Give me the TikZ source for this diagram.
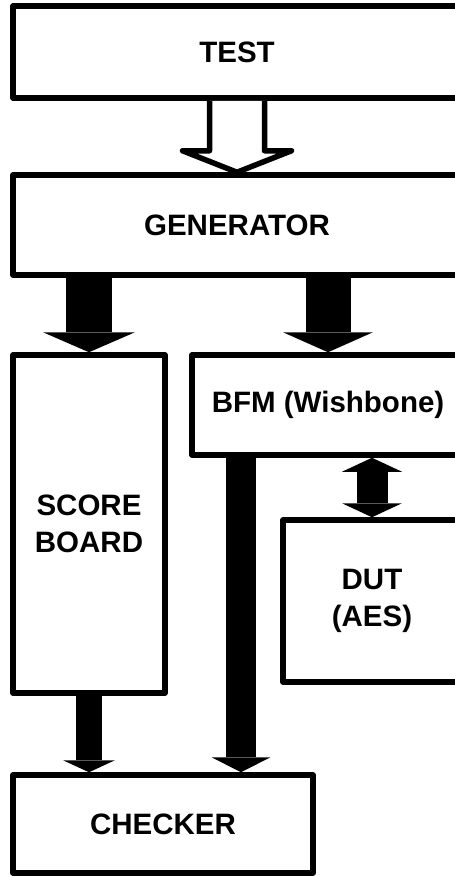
\documentclass[tikz,border=0pt]{standalone}
\usepackage{fontspec}
\setmainfont{Liberation Sans}
\usetikzlibrary{arrows.meta,calc}

\tikzset{
  block/.style={draw, line width=5.5pt, line join=round, inner sep=0pt, align=center,
    font=\bfseries\fontsize{29.5}{37}\selectfont},
  fat/.style n args={3}{line width=#1pt,
    -{Triangle[width=#2pt,length=#3pt,line width=0pt]}},
  fatboth/.style n args={3}{line width=#1pt,
    {Triangle[width=#2pt,length=#3pt,line width=0pt]}-{Triangle[width=#2pt,length=#3pt,line width=0pt]}},
  hollow/.style={draw, fill=white, line width=5.5pt, line join=round}
}

\begin{document}
\begin{tikzpicture}[x=1pt,y=-1pt]
  \useasboundingbox (0,0) rectangle (455,876);
  \clip (0,0) rectangle (455,876);

  % boxes
  \node[block, minimum width=448, minimum height=92] (test) at (237,52) {TEST};
  \node[block, minimum width=448, minimum height=100] (gen) at (237,225) {GENERATOR};
  \node[block, minimum width=152, minimum height=338] (score) at (89,524) {SCORE\\BOARD};
  \node[block, minimum width=272, minimum height=100] (bfm) at (328,405) {BFM (Wishbone)};
  \node[block, minimum width=178, minimum height=162] (dut) at (372,601) {DUT\\(AES)};
  \node[block, minimum width=300, minimum height=98] (chk) at (163,824) {CHECKER};
  \coordinate (tap) at (241,0);

  % test -> generator
  \draw[hollow] (test.south) ++(-27.5,0) |- ($(test.south)+(-54.5,50)$) -- (gen.north)
    -- ($(test.south)+(54.5,50)$) -| ($(test.south)+(27.5,0)$);

  % data flow
  \draw[fat={46}{92}{20}] (gen.south -| score.north) -- (score.north);
  \draw[fat={45}{90}{20}] (gen.south -| bfm.north) -- (bfm.north);
  \draw[fatboth={31}{60}{14}] (bfm.south -| dut.north) -- (dut.north);
  \draw[fat={30}{59}{15}] (bfm.south -| tap) -- (chk.north -| tap);
  \draw[fat={26}{52}{12}] (score.south) -- (score.south |- chk.north);
\end{tikzpicture}
\end{document}
